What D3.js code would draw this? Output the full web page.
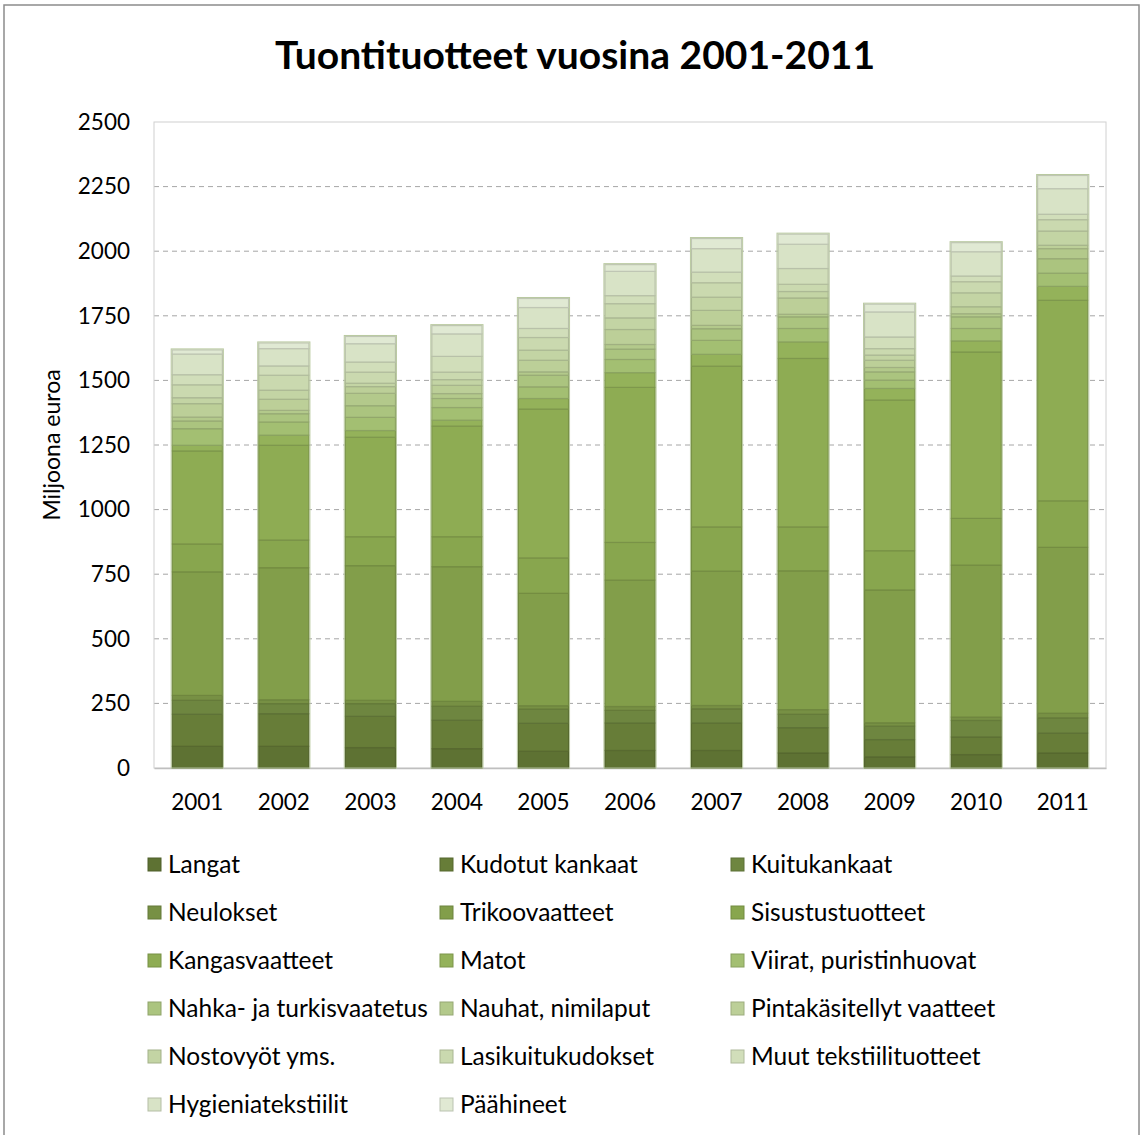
<!DOCTYPE html>
<html>
<head>
<meta charset="utf-8">
<script src="https://cdnjs.cloudflare.com/ajax/libs/d3/7.8.5/d3.min.js"></script>
<style>
  body { margin: 0; background: #fff; }
  text { font-family: Lato, "Open Sans", sans-serif; fill: #000; }
</style>
</head>
<body>
<svg></svg>
<script>
const years = ["2001", "2002", "2003", "2004", "2005", "2006", "2007", "2008", "2009", "2010", "2011"];
const seriesNames = [
  "Langat", "Kudotut kankaat", "Kuitukankaat",
  "Neulokset", "Trikoovaatteet", "Sisustustuotteet",
  "Kangasvaatteet", "Matot", "Viirat, puristinhuovat",
  "Nahka- ja turkisvaatetus", "Nauhat, nimilaput", "Pintakäsitellyt vaatteet",
  "Nostovyöt yms.", "Lasikuitukudokset", "Muut tekstiilituotteet",
  "Hygieniatekstiilit", "Päähineet"
];

// million euros
const langat    = [84, 84, 79, 75, 65, 68, 68, 58, 43, 52, 58];
const kudotut   = [124, 126, 121, 110, 108, 106, 106, 98, 67, 68, 77];
const kuitu     = [54, 39, 49, 54, 55, 49, 55, 52, 52, 64, 59];
const neulokset = [19, 15, 13, 19, 13, 15, 13, 18, 13, 13, 18];
const trikoo    = [478, 511, 521, 521, 435, 489, 520, 537, 514, 588, 642];
const sisustus  = [108, 107, 112, 116, 137, 146, 171, 170, 152, 181, 180];
const kangas    = [360, 367, 385, 428, 576, 600, 622, 652, 583, 644, 776];
const matot     = [22, 39, 26, 23, 41, 57, 46, 64, 45, 43, 54];
const viirat    = [64, 51, 51, 49, 45, 51, 54, 52, 32, 48, 51];
const nahka     = [30, 32, 45, 35, 45, 40, 45, 45, 32, 45, 56];
const nauhat    = [15, 13, 48, 19, 13, 18, 13, 10, 17, 12, 39];
const pinta     = [52, 43, 26, 32, 45, 58, 58, 63, 28, 27, 13];
const nostov    = [23, 35, 13, 22, 39, 45, 51, 25, 20, 54, 55];
const lasikuitu = [50, 58, 43, 29, 49, 55, 56, 28, 25, 43, 44];
const muut      = [39, 36, 39, 61, 35, 31, 41, 61, 45, 22, 21];
const hygienia  = [80, 67, 71, 87, 81, 94, 91, 94, 97, 94, 99];
const paahineet = [16, 22, 28, 32, 35, 26, 39, 39, 30, 35, 51];

const seriesValues = [langat, kudotut, kuitu, neulokset, trikoo, sisustus, kangas, matot, viirat,
  nahka, nauhat, pinta, nostov, lasikuitu, muut, hygienia, paahineet];

const yTicks = [0, 250, 500, 750, 1000, 1250, 1500, 1750, 2000, 2250, 2500];

const colors = [
  "#5e7233", "#677d38", "#6e8640", "#779044", "#829e4a", "#88a64e", "#8eac53", "#94b25a", "#a3bf72",
  "#abc47f", "#b3c98b", "#bccf98", "#c3d4a4", "#cad9af", "#d1deba", "#d8e3c6", "#e0e9d3"
];

const width = 1144;
const height = 1135;
const margin = { top: 122, right: 38, bottom: 367, left: 154 };

const svg = d3.select("svg").attr("width", width).attr("height", height);

// outer frame
svg.append("rect")
  .attr("x", 4).attr("y", 5)
  .attr("width", 1135).attr("height", 1150)
  .attr("fill", "none").attr("stroke", "#8c8c8c").attr("stroke-width", 1.5);

svg.append("text")
  .attr("x", 575).attr("y", 69)
  .attr("text-anchor", "middle")
  .attr("font-size", "39px")
  .attr("font-weight", "bold")
  .text("Tuontituotteet vuosina 2001-2011");

const x = d3.scaleBand().domain(years)
  .range([margin.left, width - margin.right])
  .paddingInner(0.42).paddingOuter(0.21);

const y = d3.scaleLinear().domain([0, 2500]).range([height - margin.bottom, margin.top]);

// grid
svg.append("g")
  .selectAll("line")
  .data(yTicks.filter((t) => t > 0 && t < 2500))
  .join("line")
  .attr("x1", margin.left).attr("x2", width - margin.right)
  .attr("y1", (d) => y(d)).attr("y2", (d) => y(d))
  .attr("stroke", "#a6a6a6")
  .attr("stroke-dasharray", "5,4");

svg.append("rect")
  .attr("x", margin.left).attr("y", margin.top)
  .attr("width", width - margin.right - margin.left)
  .attr("height", height - margin.bottom - margin.top)
  .attr("fill", "none").attr("stroke", "#d0d0d0");

const yAxis = svg.append("g")
  .attr("transform", `translate(${margin.left}, 0)`)
  .call(d3.axisLeft(y).tickValues(yTicks).tickSize(0).tickPadding(24).tickFormat(d3.format("d")));
yAxis.select(".domain").remove();
yAxis.selectAll("text").attr("font-size", "22.5px").attr("font-family", "Lato, sans-serif").attr("fill", "#000");

const xAxis = svg.append("g")
  .attr("transform", `translate(0, ${height - margin.bottom})`)
  .call(d3.axisBottom(x).tickSize(0).tickPadding(26));
xAxis.select(".domain").attr("stroke", "#bfbfbf").attr("stroke-width", 1.5);
xAxis.selectAll("text").attr("font-size", "22.5px").attr("font-family", "Lato, sans-serif").attr("fill", "#000");

svg.append("text")
  .attr("transform", "translate(60, 445) rotate(-90)")
  .attr("text-anchor", "middle")
  .attr("font-size", "23px")
  .text("Miljoona euroa");

// stacked bars
const table = years.map((yr, i) => {
  const row = { year: yr };
  seriesNames.forEach((s, k) => { row[s] = seriesValues[k][i]; });
  return row;
});
const stacked = d3.stack().keys(seriesNames)(table);

svg.append("g")
  .selectAll("g")
  .data(stacked)
  .join("g")
  .attr("fill", (d, i) => colors[i])
  .attr("stroke", (d, i) => d3.color(colors[i]).darker(0.45))
  .attr("stroke-width", 1.2)
  .selectAll("rect")
  .data((d) => d)
  .join("rect")
  .attr("x", (d) => x(d.data.year))
  .attr("width", x.bandwidth())
  .attr("y", (d) => y(d[1]))
  .attr("height", (d) => y(d[0]) - y(d[1]));

// light outline around each bar
svg.append("g")
  .selectAll("rect")
  .data(table)
  .join("rect")
  .attr("x", (d) => x(d.year) - 1)
  .attr("width", x.bandwidth() + 2)
  .attr("y", (d) => y(d3.sum(seriesNames, (s) => d[s])) - 1)
  .attr("height", (d) => y(0) - y(d3.sum(seriesNames, (s) => d[s])) + 1)
  .attr("fill", "none")
  .attr("stroke", "#b9c9a0")
  .attr("stroke-width", 1);

// legend
const legendCols = [148, 440, 731];
const legend = svg.append("g")
  .selectAll("g")
  .data(seriesNames)
  .join("g")
  .attr("transform", (d, i) => `translate(${legendCols[i % 3]}, ${864 + Math.floor(i / 3) * 48})`);

legend.append("rect")
  .attr("x", 0).attr("y", -6)
  .attr("width", 13).attr("height", 13)
  .attr("fill", (d, i) => colors[i])
  .attr("stroke", (d, i) => d3.color(colors[i]).darker(0.5));

legend.append("text")
  .attr("x", 20).attr("y", 0)
  .attr("dy", "0.35em")
  .attr("font-size", "24.5px")
  .text((d) => d);
</script>
</body>
</html>
